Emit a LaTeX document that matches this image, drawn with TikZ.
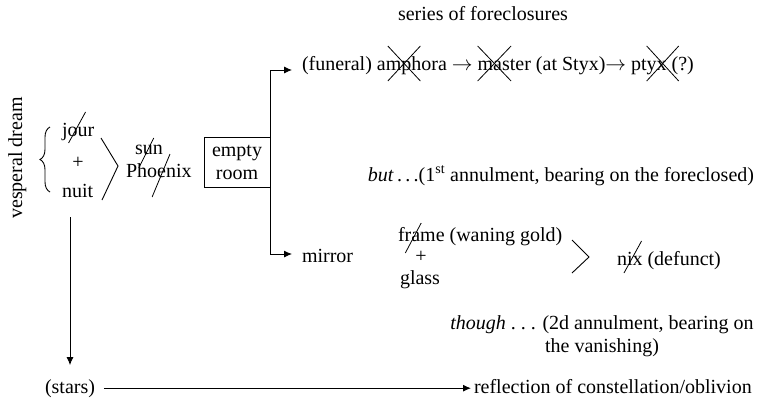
\documentclass[tikz,border=0pt]{standalone}
\usepackage{fontspec}
\setmainfont{Liberation Serif}
\usetikzlibrary{arrows.meta,decorations.pathreplacing,calc}
\newcommand\myX[3]{\draw[strike] ([shift={(#2,11)}]#1.base west) -- ([shift={(#3,-24)}]#1.base east) ([shift={(#2,-24)}]#1.base west) -- ([shift={(#3,11)}]#1.base east);}
\newcommand\mySlash[5]{\draw[strike] ([shift={(#2,#3)}]#1.base west) -- ([shift={(#4,#5)}]#1.base east);}
\begin{document}
\begin{tikzpicture}[x=1pt,y=-1pt,
  every node/.style={inner sep=0pt, outer sep=0pt, font=\fontsize{20}{23}\selectfont},
  txt/.style={anchor=base west},
  arr/.style={line width=0.9pt, -{Latex[length=8pt,width=7pt]}},
  ln/.style={line width=0.9pt},
  strike/.style={line width=0.8pt}]
\useasboundingbox (0,0) rectangle (764,397);

\node[anchor=base] (series) at (483,20) {series of foreclosures};
\node[rotate=90, anchor=base] (vesp) at (22,158) {vesperal dream};

% jour + nuit
\node[txt] (j) at (62,136) {j};
\node[txt] (o) at (j.base east) {o};
\node[txt] (ur) at (o.base east) {ur};
\node (plus1) at (78,163) {+};
\node[txt] (nuit) at (62,197) {nuit};
\draw[ln, decorate, decoration={brace, amplitude=10pt}] (50,192) -- (50,127);
\draw[ln] (101,138) -- (118,166) -- (102,200);

% sun / Phoenix
\node[txt] (s) at (135,154) {s};
\node[txt] (u) at (s.base east) {u};
\node[txt] (n) at (u.base east) {n};
\node[txt] (Ph) at (126,177) {Ph};
\node[txt] (oe) at (Ph.base east) {oe};
\node[txt] (nix1) at (oe.base east) {nix};

\node[draw, ln, minimum width=66pt, minimum height=50pt, align=center] (room) at (237,162) {empty\\room};

\coordinate (tA) at (292,70);
\coordinate (tB) at (292,254);
\draw[arr] (room.north east) |- (tA);
\draw[arr] (room.south east) |- (tB);

% top row
\node[txt] (t1) at (302,70) {(funeral) a};
\node[txt] (t2) at (t1.base east) {mph};
\node[txt] (t3) at (t2.base east) {ora $\rightarrow$\ \null};
\node[txt] (t4) at (t3.base east) {ma};
\node[txt] (t5) at (t4.base east) {ster (at Styx)$\rightarrow$\ pt};
\node[txt] (t6) at (t5.base east) {yx};
\node[txt] (t7) at (t6.base east) {\ (?)};

\node[anchor=base east] (but) at (754,181) {\textit{but}\,.\,.\,.(1\textsuperscript{st} annulment, bearing on the foreclosed)};

% mirror row
\node[txt] (mirror) at (302,262) {mirror};
\node[txt] (fr) at (398,241) {fr};
\node[txt] (a) at (fr.base east) {a};
\node[txt] (me) at (a.base east) {me (waning gold)};
\node (plus2) at (421,257) {+};
\node[anchor=base] (glass) at (420,284) {glass};
\draw[ln] (572,240) -- (589,257) -- (572,273);
\node[txt] (n2) at (617,265) {n};
\node[txt] (i2) at (n2.base east) {i};
\node[txt] (x2) at (i2.base east) {x (defunct)};

\node[anchor=base] (th1) at (602,329) {\textit{though} .\ .\ . (2d annulment, bearing on};
\node[anchor=base] (th2) at (602,352) {the vanishing)};

\node[anchor=base] (stars) at (70,393) {(stars)};
\node[txt] (refl) at (474,393) {reflection of constellation/oblivion};
\draw[arr, shorten <=20pt, shorten >=14pt] (stars.north |- nuit.south) -- (stars.north);
\draw[arr, shorten <=9pt, shorten >=3pt] (stars.east) -- (stars.east -| refl.west);

% strikes
\mySlash{o}{1}{7}{8}{-24}
\mySlash{u}{-4}{14}{1}{-16}
\mySlash{oe}{5}{20}{4}{-23}
\mySlash{a}{-6}{12}{1}{-18}
\mySlash{i2}{-3}{8}{9}{-24}
\myX{t2}{2}{-1}
\myX{t4}{0}{9}
\myX{t6}{0}{12}
\end{tikzpicture}
\end{document}
